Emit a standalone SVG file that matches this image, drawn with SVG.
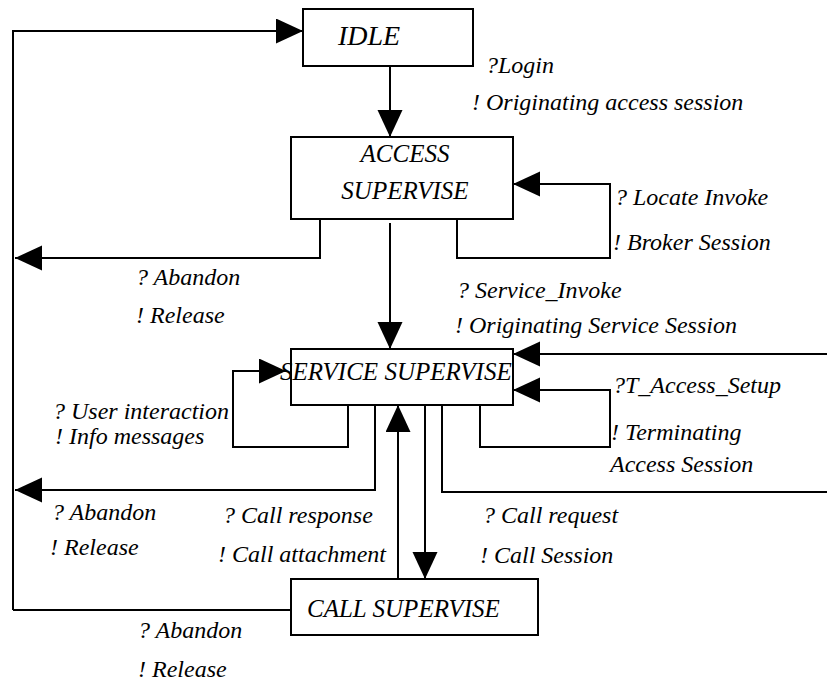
<svg xmlns="http://www.w3.org/2000/svg" width="827" height="683" viewBox="0 0 827 683">
  <style>
    .box { fill: #fff; stroke: #000; stroke-width: 2; }
    .node { font-family: "Liberation Serif", "Times New Roman", serif; font-style: italic; font-size: 25px; fill: #000; }
    .lbl { font-family: "Liberation Serif", "Times New Roman", serif; font-style: italic; font-size: 24px; fill: #000; }
    .wire { fill: none; stroke: #000; stroke-width: 2; }
    .arr { marker-end: url(#head); }
  </style>
  <defs>
    <marker id="head" markerUnits="userSpaceOnUse" markerWidth="28" markerHeight="26" refX="27" refY="12.5" orient="auto">
      <path d="M0,0 L27,12.5 L0,25 Z" fill="#000"/>
    </marker>
  </defs>

  <rect width="827" height="683" fill="#fff"/>

  <!-- connectors -->
  <g id="connectors">
    <!-- return path to IDLE -->
    <path class="wire arr" d="M13,610 L13,31 L303,31"/>
    <path class="wire" d="M13,610 L291,610"/>
    <!-- IDLE -> ACCESS SUPERVISE -->
    <path class="wire arr" d="M390,66 L390,137"/>
    <!-- ACCESS abandon -->
    <path class="wire arr" d="M320,219 L320,258 L15,258"/>
    <!-- ACCESS self loop -->
    <path class="wire arr" d="M457,217 L457,258 L610,258 L610,184 L513,184"/>
    <!-- ACCESS -> SERVICE -->
    <path class="wire arr" d="M390,223 L390,349"/>
    <!-- incoming from right -->
    <path class="wire arr" d="M827,354 L513,354"/>
    <!-- user interaction loop -->
    <path class="wire arr" d="M348,403 L348,447 L233,447 L233,371 L286,371"/>
    <!-- SERVICE abandon -->
    <path class="wire arr" d="M375,405 L375,490 L15,490"/>
    <!-- T_Access_Setup loop -->
    <path class="wire arr" d="M480,405 L480,447 L610,447 L610,390 L513,390"/>
    <!-- outgoing to right -->
    <path class="wire" d="M442,405 L442,492 L827,492"/>
    <!-- call response -->
    <path class="wire arr" d="M398,579 L398,405"/>
    <!-- call request -->
    <path class="wire arr" d="M425,405 L425,579"/>
  </g>

  <!-- states -->
  <g id="idle">
    <rect class="box" x="303" y="9" width="170" height="57"/>
    <text class="node" x="338" y="45" style="font-size:28px">IDLE</text>
  </g>
  <g id="access-supervise">
    <rect class="box" x="291" y="137" width="222" height="82"/>
    <text class="node" x="405" y="162" text-anchor="middle">ACCESS</text>
    <text class="node" x="405" y="199" text-anchor="middle">SUPERVISE</text>
  </g>
  <g id="service-supervise">
    <rect class="box" x="291" y="349" width="222" height="56"/>
    <text class="node" x="280" y="380">SERVICE SUPERVISE</text>
  </g>
  <g id="call-supervise">
    <rect class="box" x="291" y="579" width="247" height="56"/>
    <text class="node" x="307" y="617">CALL SUPERVISE</text>
  </g>

  <!-- transition labels -->
  <g id="labels">
    <text class="lbl" x="486" y="73">?Login</text>
    <text class="lbl" x="472" y="110">! Originating access session</text>
    <text class="lbl" x="615" y="205">? Locate Invoke</text>
    <text class="lbl" x="613" y="250">! Broker Session</text>
    <text class="lbl" x="136" y="285">? Abandon</text>
    <text class="lbl" x="136" y="323">! Release</text>
    <text class="lbl" x="457" y="298">? Service_Invoke</text>
    <text class="lbl" x="455" y="333">! Originating Service Session</text>
    <text class="lbl" x="53" y="419">? User interaction</text>
    <text class="lbl" x="55" y="444">! Info messages</text>
    <text class="lbl" x="613" y="393">?T_Access_Setup</text>
    <text class="lbl" x="611" y="440">! Terminating</text>
    <text class="lbl" x="610" y="472">Access Session</text>
    <text class="lbl" x="52" y="520">? Abandon</text>
    <text class="lbl" x="50" y="555">! Release</text>
    <text class="lbl" x="223" y="523">? Call response</text>
    <text class="lbl" x="218" y="562">! Call attachment</text>
    <text class="lbl" x="483" y="523">? Call request</text>
    <text class="lbl" x="480" y="563">! Call Session</text>
    <text class="lbl" x="138" y="638">? Abandon</text>
    <text class="lbl" x="138" y="677">! Release</text>
  </g>
</svg>
